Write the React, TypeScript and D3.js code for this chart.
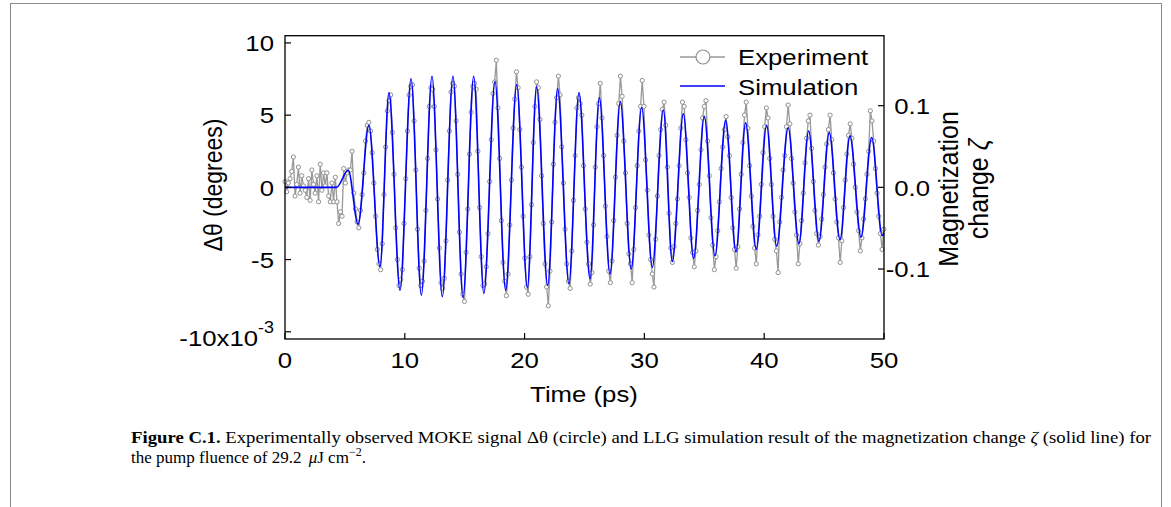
import React from "react";
import * as d3 from "d3";

// Experimental MOKE signal Δθ (×10^-3 degrees), sampled every experimentStep ps from experimentStart
const experimentStart = 0;
const experimentStep = 0.14;
const experimentValues = [
  0.4, -0.3, 0.3, 0.6, 1.1, 2.1, -0.6, 0.2, 1.4, -0.4, 0.8, 0.1, -0.2, -0.7, 0.6, -0.9,
  1.2, 0.2, -0.4, 0.8, -1.0, 1.6, -0.2, 1.0, 0.1, 1.0, -0.6, -1.0, 0.3, -1.0, 0.7, -1.0,
  -2.5, -1.7, -2.0, 1.3, 0.3, 1.0, 1.2, 1.2, 2.5, -0.4, -1.5, -2.4,
  -2.8, -1.6, -0.5, 1.0, 3.2, 4.3, 4.5, 3.9, 2.4, 0.3, -2.0, -4.3, -5.3,
  -5.7, -3.9, -0.5, 2.8, 5.3, 6.0, 6.4, 3.8, 0.9, -2.8, -5.0, -6.8,
  -6.4, -5.7, -2.5, 0.6, 3.9, 6.4, 7.0, 7.1, 4.6, 1.2, -2.9, -5.6, -6.8,
  -6.5, -5.1, -1.6, 2.0, 5.6, 6.9, 6.8, 5.6, 2.6, -0.8, -4.2, -6.6,
  -7.0, -6.3, -3.7, 0.5, 3.9, 6.6, 7.2, 7.0, 4.6, 0.9, -3.1, -6.0, -7.4,
  -7.9, -4.5, -1.5, 2.3, 5.2, 7.0, 7.2, 6.8, 2.5, -1.4, -4.8, -6.8,
  -6.7, -5.5, -3.2, 0.4, 3.3, 6.5, 7.3, 8.8, 5.5, 2.0, -2.3, -5.2, -6.5,
  -7.5, -6.0, -2.6, 0.5, 4.1, 6.1, 8.0, 6.9, 4.0, 1.4, -2.0, -4.9, -6.9,
  -7.4, -4.8, -1.2, 3.1, 5.6, 7.3, 6.9, 4.7, 0.8, -2.5, -5.3, -6.9,
  -8.2, -5.8, -2.4, 1.6, 4.5, 6.2, 7.7, 6.4, 2.8, 0.3, -2.9, -5.3, -6.5,
  -7.0, -4.4, -0.9, 2.2, 5.5, 6.2, 5.8, 5.0, 1.5, -1.5, -3.8, -5.3,
  -6.7, -5.9, -2.6, 1.4, 4.2, 5.8, 7.2, 4.8, 2.2, -1.3, -3.4, -5.8,
  -6.6, -5.1, -2.3, 0.7, 3.6, 5.8, 7.7, 6.3, 3.2, 1.0, -2.5, -4.6, -5.3,
  -6.6, -4.3, -1.4, 1.5, 3.9, 5.6, 7.4, 5.6, 1.9, -0.2, -3.3, -5.0,
  -6.0, -6.9, -3.6, -0.6, 2.2, 4.0, 5.4, 5.9, 4.3, 1.4, -1.8, -4.2,
  -5.2, -4.1, -2.5, -0.8, 1.5, 4.1, 5.9, 5.6, 3.3, 1.0, -0.7, -3.5, -4.5,
  -5.5, -4.4, -1.6, 0.2, 2.6, 4.8, 5.6, 6.0, 3.2, 0.8, -2.1, -4.0, -5.7,
  -4.8, -3.0, -1.0, 1.3, 2.8, 4.0, 4.9, 3.5, 2.2, -0.7, -2.8, -4.3,
  -5.6, -4.1, -1.5, 0.9, 3.1, 5.0, 5.9, 4.1, 1.5, -0.6, -2.7, -4.2,
  -5.3, -3.3, -2.0, 0.2, 2.4, 4.2, 5.5, 4.8, 2.0, 0.2, -2.0, -3.6, -4.4,
  -5.9, -2.4, -0.7, 1.2, 2.2, 4.2, 5.7, 4.4, 2.0, 0.3, -1.7, -3.3, -5.3,
  -3.9, -2.3, -0.4, 1.7, 3.4, 4.6, 5.0, 2.7, 0.4, -1.6, -3.2, -4.0,
  -3.4, -2.2, -0.5, 1.4, 3.0, 4.0, 5.0, 3.3, 1.0, -0.8, -2.4, -3.5,
  -5.2, -3.7, -1.4, 0.5, 2.3, 3.6, 4.4, 3.4, 1.6, 0.0, -1.7, -3.0, -4.4,
  -3.5, -2.2, -0.8, 0.9, 2.5, 5.3, 4.6, 3.2, 1.3, -0.4, -2.0, -3.2, -4.3, -2.9,
];

// LLG simulation, magnetization change ζ: turning points
const simulationTimes = [
  0, 4.3, 5.28, 6.1, 7.0, 7.93, 8.68, 9.6, 10.52, 11.38, 12.27, 13.13, 14.02, 14.86, 15.75,
  16.6, 17.53, 18.42, 19.34, 20.23, 21.0, 21.93, 22.76, 23.7, 24.54, 25.46, 26.24, 27.13,
  27.99, 28.9, 29.77, 30.66, 31.58, 32.33, 33.25, 34.11, 35.0, 35.89, 36.78, 37.65, 38.45,
  39.34, 40.2, 41.04, 42.0, 42.9, 43.71, 44.57, 45.43, 46.33, 47.16, 48.08, 48.97, 49.85, 50,
];
const simulationValues = [
  0, 0, 0.021, -0.045, 0.076, -0.097, 0.116, -0.126, 0.133, -0.132, 0.136, -0.134, 0.136,
  -0.135, 0.136, -0.13, 0.13, -0.126, 0.126, -0.123, 0.123, -0.12, 0.121, -0.118, 0.116,
  -0.112, 0.11, -0.106, 0.105, -0.1, 0.098, -0.098, 0.095, -0.091, 0.09, -0.087, 0.087,
  -0.084, 0.082, -0.079, 0.079, -0.076, 0.076, -0.072, 0.073, -0.069, 0.069, -0.066, 0.067,
  -0.064, 0.063, -0.061, 0.061, -0.059, -0.056,
];

const xTicks = [0, 10, 20, 30, 40, 50];
const leftTicks = [10, 5, 0, -5];
const leftBottomTick = -10;
const rightTicks = [0.1, 0, -0.1];
const rightTickLabels = ["0.1", "0.0", "-0.1"];

const SANS = "'Liberation Sans', Arial, Helvetica, sans-serif";
const SERIF = "'Liberation Serif', 'Times New Roman', serif";
const SX = 1.12;
const GRAY = "#999999";

function StretchText(props: {
  x: number;
  y: number;
  anchor?: "start" | "middle" | "end";
  size: number;
  rotate?: number;
  children: React.ReactNode;
}) {
  const { x, y, anchor = "start", size, rotate = 0, children } = props;
  return (
    <g transform={`translate(${x},${y}) scale(${SX},1) rotate(${rotate})`}>
      <text textAnchor={anchor} fontSize={size} fontFamily={SANS} fill="#000">
        {children}
      </text>
    </g>
  );
}

export default function App() {
  const L = 285,
    R = 884,
    T = 35.7,
    B = 339;
  const x = d3.scaleLinear().domain([0, 50]).range([L, R]);
  const yL = d3.scaleLinear().domain([-10.5, 10.5]).range([B, T]);
  const yR = d3.scaleLinear().domain([-0.1857, 0.1857]).range([B, T]);

  const expData = experimentValues.map((v, i) => ({
    t: experimentStart + i * experimentStep,
    v,
  }));
  const simData = simulationTimes.map((t, i) => ({ t, v: simulationValues[i] }));

  const expLine = d3
    .line<{ t: number; v: number }>()
    .x((d) => x(d.t))
    .y((d) => yL(d.v))(expData) as string;
  const simLine = d3
    .line<{ t: number; v: number }>()
    .x((d) => x(d.t))
    .y((d) => yR(d.v))
    .curve(d3.curveMonotoneX)(simData) as string;

  const tickLen = 6;
  const fs = 23;

  return (
    <svg
      width={1171}
      height={507}
      style={{ position: "absolute", left: 0, top: 0, background: "#fff" }}
    >
      <rect x={10.5} y={3.5} width={1151} height={600} fill="none" stroke="#8a8a8a" strokeWidth={1} />

      {/* data */}
      <path d={expLine} fill="none" stroke={GRAY} strokeWidth={1.3} />
      {expData.map((d, i) => (
        <circle key={i} cx={x(d.t)} cy={yL(d.v)} r={2.1} fill="#fff" stroke="#8f8f8f" strokeWidth={1} />
      ))}
      <path d={simLine} fill="none" stroke="#0000ff" strokeWidth={1.6} />

      {/* frame */}
      <rect x={L} y={T} width={R - L} height={B - T} fill="none" stroke="#000" strokeWidth={1.3} />

      {/* bottom ticks */}
      {xTicks.map((t) => (
        <g key={"x" + t}>
          <line x1={x(t)} x2={x(t)} y1={B} y2={B - tickLen} stroke="#000" strokeWidth={1.2} />
          <StretchText x={x(t)} y={368} anchor="middle" size={fs}>
            {t}
          </StretchText>
        </g>
      ))}
      {/* left ticks */}
      {[...leftTicks, leftBottomTick].map((t) => (
        <line key={"l" + t} x1={L} x2={L + tickLen} y1={yL(t)} y2={yL(t)} stroke="#000" strokeWidth={1.2} />
      ))}
      {leftTicks.map((t) => (
        <StretchText key={"lt" + t} x={274} y={yL(t) + 8.3} anchor="end" size={fs}>
          {t}
        </StretchText>
      ))}
      <g transform={`translate(274,${yL(leftBottomTick) + 14.5}) scale(${SX},1)`}>
        <text textAnchor="end" fontSize={fs} fontFamily={SANS}>
          {leftBottomTick}x10
          <tspan dy={-13} fontSize={16}>
            -3
          </tspan>
        </text>
      </g>
      {/* right ticks */}
      {rightTicks.map((t, i) => (
        <g key={"r" + t}>
          <line x1={R} x2={R - tickLen} y1={yR(t)} y2={yR(t)} stroke="#000" strokeWidth={1.2} />
          <StretchText x={930} y={yR(t) + 8.3} anchor="end" size={fs}>
            {rightTickLabels[i]}
          </StretchText>
        </g>
      ))}

      {/* axis titles */}
      <StretchText x={584} y={402} anchor="middle" size={fs}>
        Time (ps)
      </StretchText>
      <StretchText x={222} y={185} anchor="middle" size={fs} rotate={-90}>
        Δθ (degrees)
      </StretchText>
      <StretchText x={958} y={189} anchor="middle" size={25} rotate={-90}>
        Magnetization
      </StretchText>
      <StretchText x={988} y={189} anchor="middle" size={25} rotate={-90}>
        change <tspan fontStyle="italic">ζ</tspan>
      </StretchText>

      {/* legend */}
      <line x1={680} x2={725} y1={57} y2={57} stroke={GRAY} strokeWidth={1.3} />
      <circle cx={703} cy={57} r={7} fill="#fff" stroke="#8f8f8f" strokeWidth={1.2} />
      <StretchText x={738} y={65} size={fs}>
        Experiment
      </StretchText>
      <line x1={680} x2={725} y1={86} y2={86} stroke="#0000ff" strokeWidth={1.6} />
      <StretchText x={738} y={95} size={fs}>
        Simulation
      </StretchText>

      {/* caption */}
      <text
        x={131}
        y={443}
        fontFamily={SERIF}
        fontSize={17}
        textLength={1020}
        lengthAdjust="spacingAndGlyphs"
      >
        <tspan fontWeight="bold">Figure C.1.</tspan> Experimentally observed MOKE signal Δθ (circle) and LLG
        simulation result of the magnetization change <tspan fontStyle="italic">ζ</tspan> (solid line) for
      </text>
      <text x={131} y={463} fontFamily={SERIF} fontSize={17}>
        the pump fluence of 29.2 <tspan dx={3} fontStyle="italic">μ</tspan>J cm
        <tspan dy={-7} fontSize={12}>
          −2
        </tspan>
        <tspan dy={7}>.</tspan>
      </text>
    </svg>
  );
}
